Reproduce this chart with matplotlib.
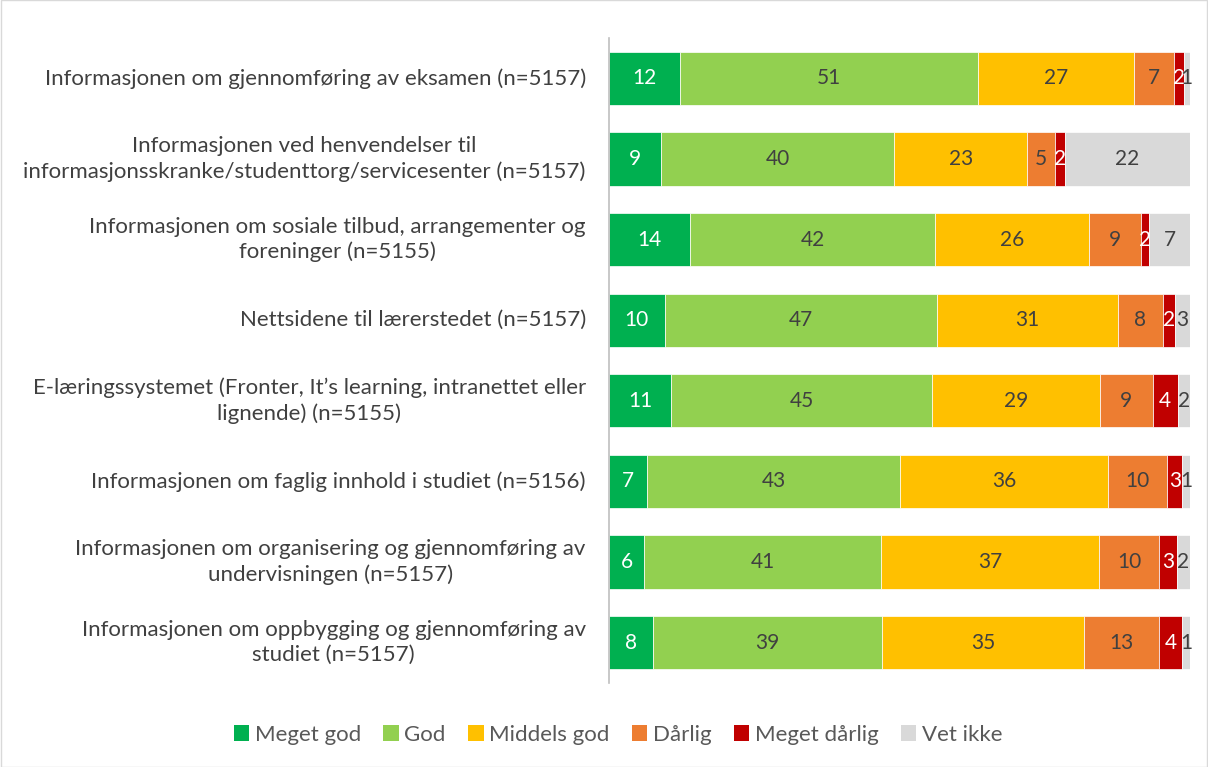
import matplotlib
matplotlib.use("Agg")
import matplotlib.pyplot as plt
from matplotlib.patches import Rectangle, Patch
import numpy as np

categories = [
    "Informasjonen om gjennomføring av eksamen (n=5157)",
    "Informasjonen ved henvendelser til\ninformasjonsskranke/studenttorg/servicesenter (n=5157)",
    "Informasjonen om sosiale tilbud, arrangementer og\nforeninger (n=5155)",
    "Nettsidene til lærerstedet (n=5157)",
    "E-læringssystemet (Fronter, It\u2019s learning, intranettet eller\nlignende) (n=5155)",
    "Informasjonen om faglig innhold i studiet (n=5156)",
    "Informasjonen om organisering og gjennomføring av\nundervisningen (n=5157)",
    "Informasjonen om oppbygging og gjennomføring av\nstudiet (n=5157)",
]
series_names = ["Meget god", "God", "Middels god", "Dårlig", "Meget dårlig", "Vet ikke"]
meget_god    = [12.2,  9.0, 14.0,  9.6, 10.7,  6.6,  6.1,  7.6]
god          = [51.3, 40.1, 42.1, 46.9, 44.9, 43.4, 40.8, 39.4]
middels_god  = [26.9, 22.9, 26.5, 31.1, 28.9, 35.9, 37.4, 34.8]
darlig       = [ 6.8,  4.8,  8.9,  7.7,  9.1, 10.2, 10.4, 12.9]
meget_darlig = [ 1.7,  1.6,  1.5,  2.1,  4.3,  2.6,  3.0,  3.9]
vet_ikke     = [ 1.1, 21.6,  7.0,  2.6,  2.1,  1.3,  2.3,  1.4]
series = [meget_god, god, middels_god, darlig, meget_darlig, vet_ikke]

colors = ["#00b050", "#92d050", "#ffc000", "#ed7d31", "#c00000", "#d9d9d9"]
label_colors = ["white", "#404040", "#404040", "#404040", "white", "#404040"]

plt.rcParams['font.family'] = ['Lato', 'DejaVu Sans']

fig = plt.figure(figsize=(12.08, 7.67), dpi=100)
ax = fig.add_axes([609/1208, 1 - 683/767, 581/1208, 645/767])

y = np.arange(len(categories))
left = np.zeros(len(categories))
for vals, col, lc in zip(series, colors, label_colors):
    vals = np.array(vals)
    ax.barh(y, vals, left=left, height=0.66, color=col, edgecolor='white', linewidth=0.5)
    for yi, l, v in zip(y, left, vals):
        ax.text(l + v / 2, yi, f"{int(round(v))}", ha='center', va='center',
                color=lc, fontsize=15)
    left += vals

ax.set_xlim(0, 100)
ax.set_ylim(len(categories) - 0.5, -0.5)
ax.set_xticks([])
ax.set_yticks([])
for s in ['top', 'right', 'bottom']:
    ax.spines[s].set_visible(False)
ax.spines['left'].set_color('#bfbfbf')
ax.spines['left'].set_linewidth(1.2)

for yi, cat in zip(y, categories):
    ax.text(-4.0, yi, cat, ha='right', va='center', multialignment='center',
            color='#404040', fontsize=16, linespacing=1.3)

handles = [Patch(facecolor=c, edgecolor='none') for c in colors]
fig.legend(handles, series_names, loc='center', bbox_to_anchor=(618/1208, 1 - 735/767),
           ncol=6, frameon=False, fontsize=16, handlelength=0.7, handleheight=0.7,
           handletextpad=0.25, columnspacing=1.0, labelcolor='#595959')

fig.patches.append(Rectangle((0.0005, 0.0005), 0.999, 0.999, transform=fig.transFigure,
                             fill=False, edgecolor='#d9d9d9', linewidth=1))

fig.savefig("out.png", dpi=100)
